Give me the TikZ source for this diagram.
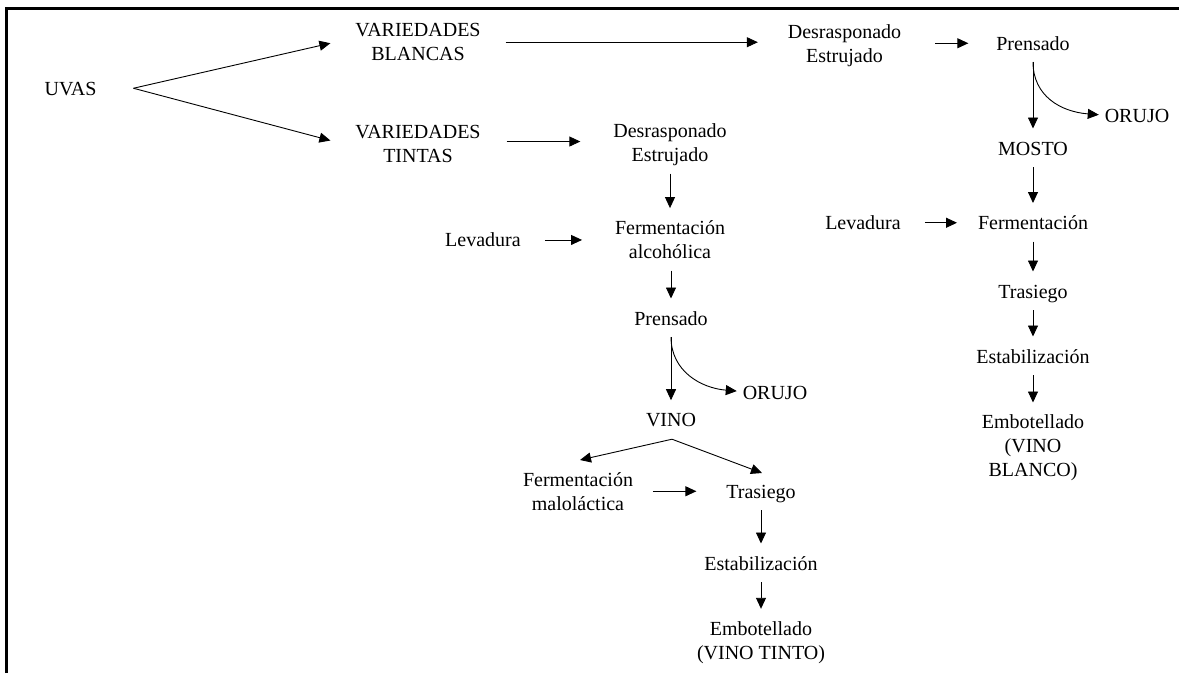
\documentclass[tikz,border=0pt]{standalone}
\usepackage{fontspec}
\setmainfont{Liberation Serif}
\usetikzlibrary{arrows.meta,calc}

\tikzset{
  lbl/.style={inner sep=0pt, outer sep=0pt, font=\fontsize{20}{24}\selectfont},
  one/.style={lbl, text height=14pt, text depth=4.5pt, anchor=base},
  multi/.style={lbl, align=center, anchor=north},
  arr/.style={-{Triangle[length=11pt,width=10pt]}, line width=0.9pt, black},
  down/.style={arr, shorten <=7.5pt, shorten >=12.5pt},
  frame/.style={line width=2.4pt, black},
}

\begin{document}
\begin{tikzpicture}[x=1pt,y=-1pt]
\useasboundingbox (0,0) rectangle (1179,673);

% open frame: left and top rules
\draw[frame] (6.5,673) -- (6.5,8.3) -- (1179,8.3);

% grapes and the two varieties
\node[one]   (uvas)    at (70.5,95)   {UVAS};
\node[multi] (blancas) at (418,23.5)  {VARIEDADES\\BLANCAS};
\node[multi] (tintas)  at (418,124.8) {VARIEDADES\\TINTAS};

% white wine line
\node[multi] (desr1)  at (844.5,24.6) {Desrasponado\\Estrujado};
\node[one]   (prR)    at (1033,50)    {Prensado};
\node[one]   (orujoR) at (1137,122.5) {ORUJO};
\node[one]   (mosto)  at (1033,155)   {MOSTO};
\node[one]   (levR)   at (863,229.5)  {Levadura};
\node[one]   (fermR)  at (1033,229.5) {Fermentación};
\node[one]   (trasR)  at (1033,298)   {Trasiego};
\node[one]   (estR)   at (1033,363)   {Estabilización};
\node[multi] (embR)   at (1033,415)   {Embotellado\\(VINO\\BLANCO)};

% red wine line
\node[multi] (desr2)  at (670,124)    {Desrasponado\\Estrujado};
\node[one]   (levL)   at (483,246.7)  {Levadura};
\node[multi] (fermL)  at (670,220.6)  {Fermentación\\alcohólica};
\node[one]   (prL)    at (671,325)    {Prensado};
\node[one]   (orujoL) at (775,399.3)  {ORUJO};
\node[one]   (vinoL)  at (671,426.7)  {VINO};
\node[multi] (malo)   at (578,473)    {Fermentación\\maloláctica};
\node[one]   (trasL)  at (761,498)    {Trasiego};
\node[one]   (estL)   at (761,570)    {Estabilización};
\node[multi] (embL)   at (761,621.3)  {Embotellado\\(VINO TINTO)};

% split of the grapes
\draw[arr] ($(uvas.east)+(37,-2)$) -- ($(blancas.west)+(-25,1)$);
\draw[arr] ($(uvas.east)+(37,-2)$) -- ($(tintas.west)+(-25,-3)$);

% white wine connectors
\draw[arr] ($(blancas.east)+(25,0)$) -- ($(blancas.east -| desr1.west)+(-30,0)$);
\draw[arr] ($(desr1.east |- prR.west)+(34,-2)$) -- ($(prR.west)+(-28,-2)$);
\draw[down] (prR.south) -- (prR.south |- mosto.north);
\draw[arr] ($(prR.south)+(0,7.5)$) .. controls +(0,34) and +(-38,-3) .. ($(orujoR.west)+(-6,-3)$);
\draw[down] (mosto.south) -- (mosto.south |- fermR.north);
\draw[arr] ($(levR.east)+(24,-2)$) -- ($(fermR.west)+(-21,-2)$);
\draw[down] (fermR.south) -- (fermR.south |- trasR.north);
\draw[down] (trasR.south) -- (trasR.south |- estR.north);
\draw[down] (estR.south) -- (estR.south |- embR.north);

% red wine connectors
\draw[arr] ($(tintas.east)+(26,-2)$) -- ($(tintas.east -| desr2.west)+(-33,-2)$);
\draw[down] (desr2.south) -- (desr2.south |- fermL.north);
\draw[arr] ($(levL.east)+(24,-2)$) -- ($(levL.east -| fermL.west)+(-33,-2)$);
\draw[down, shorten <=12pt] (fermL.south -| prL.south) -- (prL.north);
\draw[down] (prL.south) -- (prL.south |- vinoL.north);
\draw[arr] ($(prL.south)+(0,7.5)$) .. controls +(0,34) and +(-36,-3) .. ($(orujoL.west)+(-6,-3.5)$);
\draw[arr] ($(vinoL.south)+(1,8)$) -- ($(malo.north)+(2,-13)$);
\draw[arr] ($(vinoL.south)+(1,8)$) -- ($(trasL.north)+(1,-11)$);
\draw[arr] ($(trasL.west -| malo.east)+(20,-2)$) -- ($(trasL.west)+(-30,-2)$);
\draw[down] (trasL.south) -- (trasL.south |- estL.north);
\draw[down] (estL.south) -- (estL.south |- embL.north);
\end{tikzpicture}
\end{document}
